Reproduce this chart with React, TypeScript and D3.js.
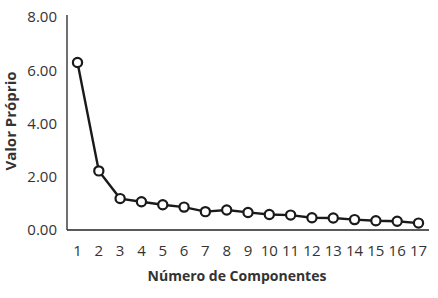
import React from "react";
import * as d3 from "d3";

const components = [1, 2, 3, 4, 5, 6, 7, 8, 9, 10, 11, 12, 13, 14, 15, 16, 17];
const eigenvalues = [6.29, 2.22, 1.18, 1.06, 0.95, 0.86, 0.69, 0.75, 0.66, 0.58, 0.56, 0.46, 0.45, 0.39, 0.35, 0.33, 0.26];
const yTicks = [0, 2, 4, 6, 8];
const xTitle = "Número de Componentes";
const yTitle = "Valor Próprio";

export default function App() {
  const W = 438, H = 298;
  const left = 67, right = 429, top = 17, bottom = 230;
  const x = d3.scaleLinear().domain([1, 17]).range([77.5, 418.5]);
  const y = d3.scaleLinear().domain([0, 8]).range([bottom, top]);
  const line = d3.line<number>().x((_, i) => x(components[i])).y((d) => y(d));
  const font = "'Open Sans', 'Noto Sans', sans-serif";
  return (
    <svg width={W} height={H} style={{ position: "absolute", left: 0, top: 0, background: "#fff" }}>
      <line x1={left} x2={left} y1={top - 2} y2={bottom} stroke="#222" strokeWidth={1.3} />
      <line x1={left} x2={right} y1={bottom} y2={bottom} stroke="#222" strokeWidth={1.3} />
      {yTicks.map((t) => (
        <text key={t} x={57} y={y(t)} dy="0.35em" textAnchor="end" fontFamily={font} fontSize={15} fill="#333">
          {t.toFixed(2)}
        </text>
      ))}
      {components.map((c) => (
        <text key={c} x={x(c)} y={256} textAnchor="middle" fontFamily={font} fontSize={15} fill="#333">
          {c}
        </text>
      ))}
      <path d={line(eigenvalues) || ""} fill="none" stroke="#1a1a1a" strokeWidth={2.4} />
      {eigenvalues.map((v, i) => (
        <circle key={i} cx={x(components[i])} cy={y(v)} r={4.6} fill="#fff" stroke="#1a1a1a" strokeWidth={2.2} />
      ))}
      <text x={237} y={281} textAnchor="middle" fontFamily={font} fontSize={14} fontWeight="bold" fill="#333">
        {xTitle}
      </text>
      <text transform={`translate(16,${121}) rotate(-90)`} textAnchor="middle" fontFamily={font} fontSize={15} fontWeight="bold" fill="#333">
        {yTitle}
      </text>
    </svg>
  );
}
